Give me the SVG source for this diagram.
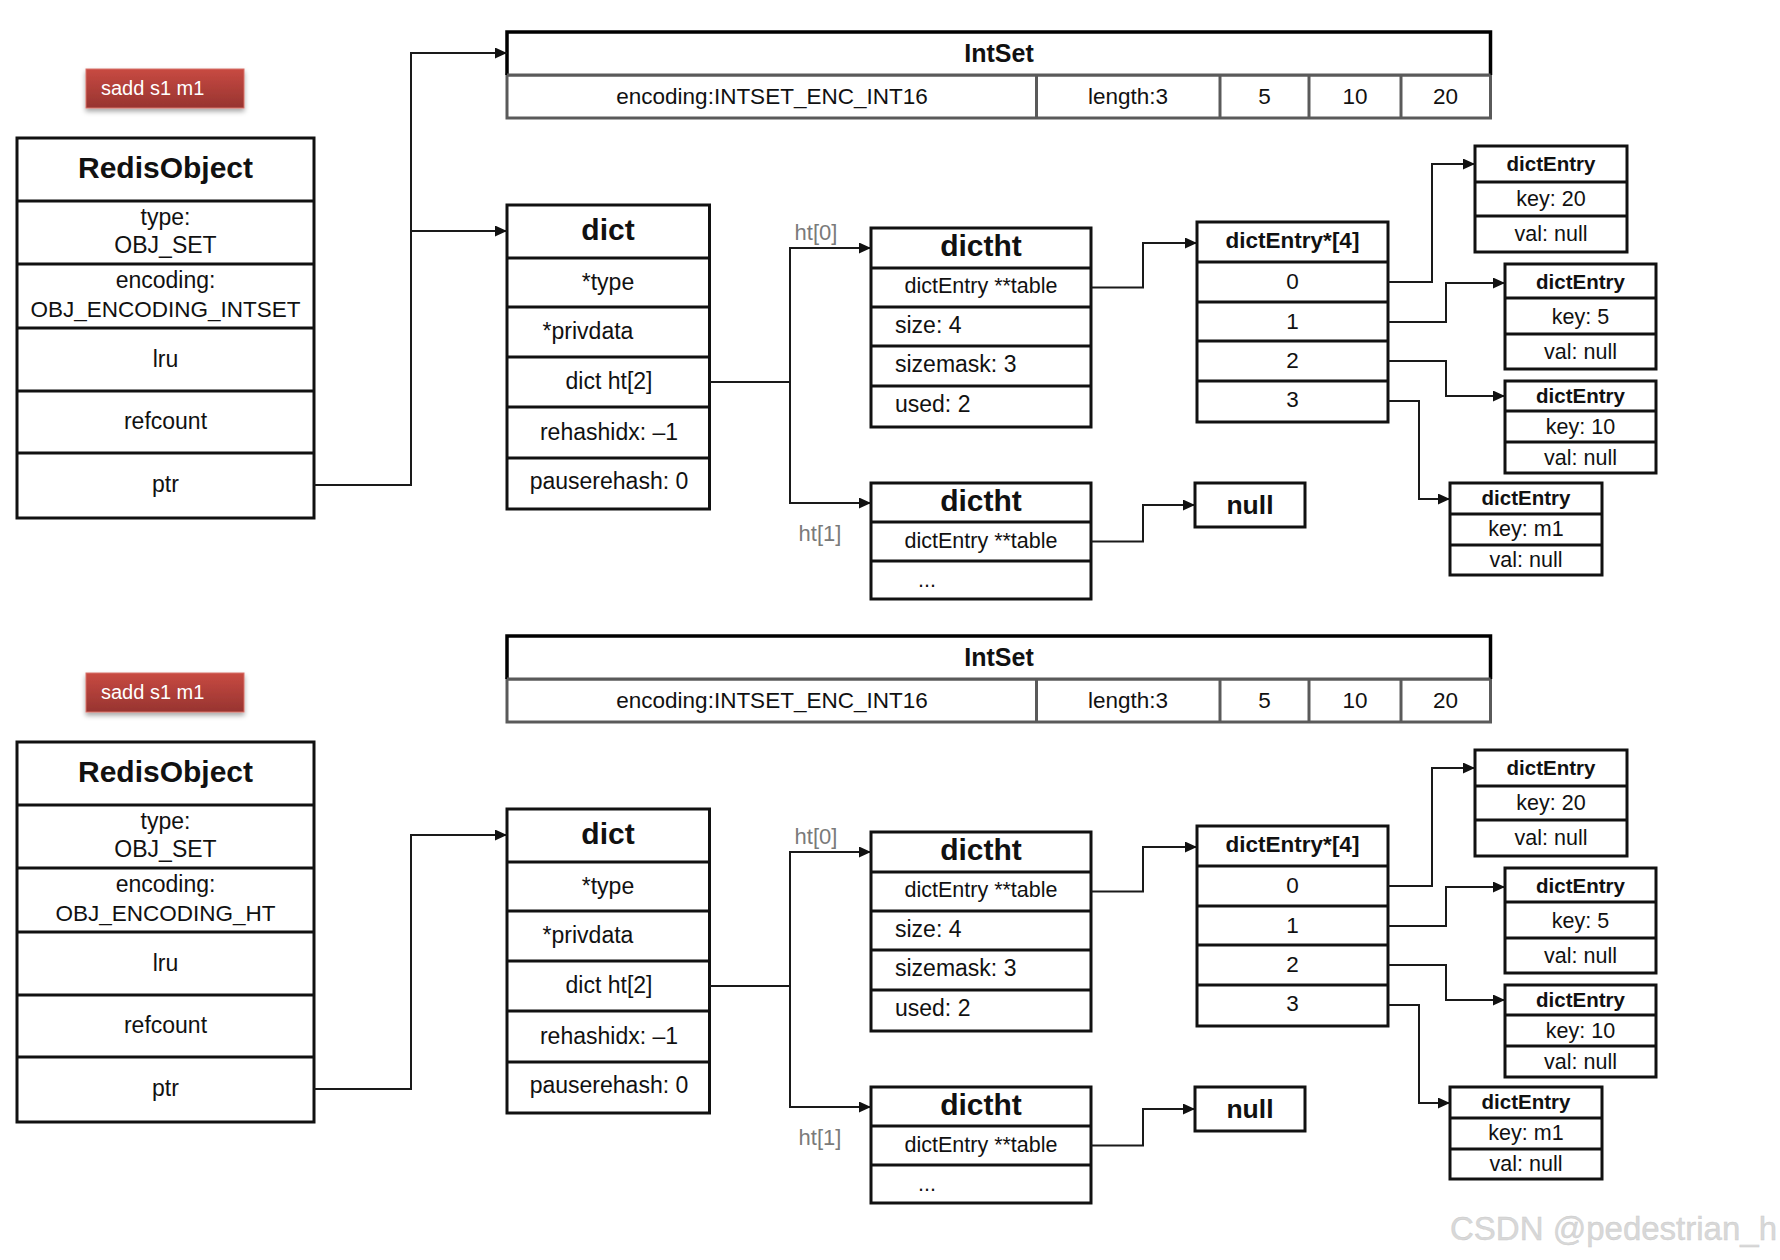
<svg xmlns="http://www.w3.org/2000/svg" width="1780" height="1260" viewBox="0 0 1780 1260">
<style>
.box{fill:#fff;stroke:#111;stroke-width:3}
.dv{stroke:#111;stroke-width:3}
.gbox{fill:#fff;stroke:#5a5a5a;stroke-width:3}
.gdv{stroke:#5a5a5a;stroke-width:3}
.t{font-family:"Liberation Sans",Arial,Helvetica,sans-serif;fill:#111;text-anchor:middle}
.s{text-anchor:start}
.b30{font-weight:bold;font-size:30px}
.r23{font-size:23px}
.r22{font-size:22.5px}
.r21{font-size:21.5px}
.b22{font-weight:bold;font-size:22.5px}
.b20{font-weight:bold;font-size:20.5px}
.lbl{font-family:"Liberation Sans",Arial,sans-serif;font-size:22px;fill:#7a7a7a;text-anchor:middle}
.btn{font-family:"Liberation Sans",Arial,sans-serif;font-size:20px;fill:#fff}
.conn{fill:none;stroke:#1a1a1a;stroke-width:2;marker-end:url(#arr)}
</style>
<defs>
<marker id="arr" markerUnits="userSpaceOnUse" markerWidth="13" markerHeight="11" refX="12" refY="5.5" orient="auto">
<path d="M0,0 L12,5.5 L0,11 z" fill="#111"/>
</marker>
<linearGradient id="red" x1="0" y1="0" x2="0" y2="1">
<stop offset="0" stop-color="#c84a42"/>
<stop offset="1" stop-color="#973430"/>
</linearGradient>
<filter id="sh" x="-10%" y="-20%" width="120%" height="160%">
<feDropShadow dx="0" dy="3" stdDeviation="2.5" flood-color="#000" flood-opacity="0.35"/>
</filter>
</defs>
<rect width="1780" height="1260" fill="#fff"/>

<!-- ============ SECTION 1 ============ -->
<g id="section1">
<g id="cmd1">
<rect x="86" y="69" width="158" height="39" fill="url(#red)" stroke="#d87068" stroke-width="1" filter="url(#sh)"/>
<text class="btn" x="101" y="95">sadd s1 m1</text>
</g>

<g id="redisobject1">
<rect class="box" x="17" y="138" width="297" height="380"/>
<line class="dv" x1="17" y1="201" x2="314" y2="201"/>
<line class="dv" x1="17" y1="264" x2="314" y2="264"/>
<line class="dv" x1="17" y1="328" x2="314" y2="328"/>
<line class="dv" x1="17" y1="391" x2="314" y2="391"/>
<line class="dv" x1="17" y1="453" x2="314" y2="453"/>
<text class="t b30" x="165.5" y="178">RedisObject</text>
<text class="t r23" x="165.5" y="225">type:</text>
<text class="t r23" x="165.5" y="253">OBJ_SET</text>
<text class="t r23" x="165.5" y="288">encoding:</text>
<text class="t r23" x="165.5" y="317" style="font-size:22.5px">OBJ_ENCODING_INTSET</text>
<text class="t r23" x="165.5" y="367">lru</text>
<text class="t r23" x="165.5" y="429">refcount</text>
<text class="t r23" x="165.5" y="492">ptr</text>
</g>

<g id="intset1">
<rect class="gbox" x="507" y="75" width="983.5" height="43"/>
<rect x="507" y="32" width="983.5" height="43" fill="#fff"/>
<path d="M507,75 V32 H1490.5 V75" fill="none" stroke="#000" stroke-width="3.5"/>
<line class="gdv" x1="507" y1="75" x2="1490.5" y2="75"/>
<line class="gdv" x1="1036.5" y1="75" x2="1036.5" y2="118"/>
<line class="gdv" x1="1220" y1="75" x2="1220" y2="118"/>
<line class="gdv" x1="1309" y1="75" x2="1309" y2="118"/>
<line class="gdv" x1="1401" y1="75" x2="1401" y2="118"/>
<text class="t" x="999" y="62" style="font-size:25px;font-weight:bold">IntSet</text>
<text class="t r22" x="772" y="104">encoding:INTSET_ENC_INT16</text>
<text class="t r22" x="1128" y="104">length:3</text>
<text class="t r22" x="1264.5" y="104">5</text>
<text class="t r22" x="1355" y="104">10</text>
<text class="t r22" x="1445.5" y="104">20</text>
</g>

<g id="dict1">
<rect class="box" x="507" y="205" width="202.5" height="304"/>
<line class="dv" x1="507" y1="258" x2="709.5" y2="258"/>
<line class="dv" x1="507" y1="307" x2="709.5" y2="307"/>
<line class="dv" x1="507" y1="357" x2="709.5" y2="357"/>
<line class="dv" x1="507" y1="407" x2="709.5" y2="407"/>
<line class="dv" x1="507" y1="458" x2="709.5" y2="458"/>
<text class="t b30" x="608" y="240">dict</text>
<text class="t r23" x="608" y="290">*type</text>
<text class="t r23" x="588" y="339">*privdata</text>
<text class="t r23" x="609" y="389">dict ht[2]</text>
<text class="t r23" x="609" y="440">rehashidx: –1</text>
<text class="t r23" x="609" y="489">pauserehash: 0</text>
</g>

<g id="dictht0-1">
<rect class="box" x="871" y="228" width="220" height="199"/>
<line class="dv" x1="871" y1="268" x2="1091" y2="268"/>
<line class="dv" x1="871" y1="307" x2="1091" y2="307"/>
<line class="dv" x1="871" y1="346" x2="1091" y2="346"/>
<line class="dv" x1="871" y1="386" x2="1091" y2="386"/>
<text class="t b30" x="981" y="256">dictht</text>
<text class="t r21" x="981" y="293">dictEntry **table</text>
<text class="t r23 s" x="895" y="333">size: 4</text>
<text class="t r23 s" x="895" y="372">sizemask: 3</text>
<text class="t r23 s" x="895" y="412">used: 2</text>
</g>

<g id="dictht1-1">
<rect class="box" x="871" y="483" width="220" height="116"/>
<line class="dv" x1="871" y1="522" x2="1091" y2="522"/>
<line class="dv" x1="871" y1="561" x2="1091" y2="561"/>
<text class="t b30" x="981" y="511">dictht</text>
<text class="t r21" x="981" y="548">dictEntry **table</text>
<text class="t r21 s" x="918" y="587">...</text>
</g>

<g id="table-1">
<rect class="box" x="1197" y="222" width="191" height="200"/>
<line class="dv" x1="1197" y1="262" x2="1388" y2="262"/>
<line class="dv" x1="1197" y1="302" x2="1388" y2="302"/>
<line class="dv" x1="1197" y1="341" x2="1388" y2="341"/>
<line class="dv" x1="1197" y1="381" x2="1388" y2="381"/>
<text class="t b22" x="1292.5" y="248">dictEntry*[4]</text>
<text class="t r22" x="1292.5" y="289">0</text>
<text class="t r22" x="1292.5" y="329">1</text>
<text class="t r22" x="1292.5" y="368">2</text>
<text class="t r22" x="1292.5" y="407">3</text>
</g>

<g id="null-1">
<rect class="box" x="1195" y="483" width="110" height="44"/>
<text class="t" x="1250" y="514" style="font-size:26.5px;font-weight:bold">null</text>
</g>

<g id="entry20-1">
<rect class="box" x="1475" y="146" width="152" height="106"/>
<line class="dv" x1="1475" y1="182" x2="1627" y2="182"/>
<line class="dv" x1="1475" y1="216" x2="1627" y2="216"/>
<text class="t b20" x="1551" y="171">dictEntry</text>
<text class="t r21" x="1551" y="206">key: 20</text>
<text class="t r21" x="1551" y="241">val: null</text>
</g>
<g id="entry5-1">
<rect class="box" x="1505" y="264" width="151" height="105"/>
<line class="dv" x1="1505" y1="298" x2="1656" y2="298"/>
<line class="dv" x1="1505" y1="334" x2="1656" y2="334"/>
<text class="t b20" x="1580.5" y="289">dictEntry</text>
<text class="t r21" x="1580.5" y="324">key: 5</text>
<text class="t r21" x="1580.5" y="359">val: null</text>
</g>
<g id="entry10-1">
<rect class="box" x="1505" y="381" width="151" height="92"/>
<line class="dv" x1="1505" y1="411" x2="1656" y2="411"/>
<line class="dv" x1="1505" y1="442" x2="1656" y2="442"/>
<text class="t b20" x="1580.5" y="403">dictEntry</text>
<text class="t r21" x="1580.5" y="434">key: 10</text>
<text class="t r21" x="1580.5" y="465">val: null</text>
</g>
<g id="entrym1-1">
<rect class="box" x="1450" y="483" width="152" height="92"/>
<line class="dv" x1="1450" y1="514" x2="1602" y2="514"/>
<line class="dv" x1="1450" y1="545" x2="1602" y2="545"/>
<text class="t b20" x="1526" y="505">dictEntry</text>
<text class="t r21" x="1526" y="536">key: m1</text>
<text class="t r21" x="1526" y="567">val: null</text>
</g>

<g id="labels-1">
<text class="lbl" x="816" y="240">ht[0]</text>
<text class="lbl" x="820" y="541">ht[1]</text>
</g>

<g id="connectors-1">
<path class="conn" d="M314,485 H411 V53 H507"/>
<path class="conn" d="M411,231 H507"/>
<path class="conn" d="M709.5,382 H790 V248 H871"/>
<path class="conn" d="M790,382 V503 H871"/>
<path class="conn" d="M1091,287.5 H1143 V243 H1197"/>
<path class="conn" d="M1091,541.5 H1143 V505 H1195"/>
<path class="conn" d="M1388,282 H1432 V164 H1475"/>
<path class="conn" d="M1388,322 H1446 V283 H1505"/>
<path class="conn" d="M1388,361 H1446 V396 H1505"/>
<path class="conn" d="M1388,401 H1419 V499 H1450"/>
</g>
</g>

<!-- ============ SECTION 2 ============ -->
<g id="section2" transform="translate(0,604)">
<g id="cmd2">
<rect x="86" y="69" width="158" height="39" fill="url(#red)" stroke="#d87068" stroke-width="1" filter="url(#sh)"/>
<text class="btn" x="101" y="95">sadd s1 m1</text>
</g>

<g id="redisobject2">
<rect class="box" x="17" y="138" width="297" height="380"/>
<line class="dv" x1="17" y1="201" x2="314" y2="201"/>
<line class="dv" x1="17" y1="264" x2="314" y2="264"/>
<line class="dv" x1="17" y1="328" x2="314" y2="328"/>
<line class="dv" x1="17" y1="391" x2="314" y2="391"/>
<line class="dv" x1="17" y1="453" x2="314" y2="453"/>
<text class="t b30" x="165.5" y="178">RedisObject</text>
<text class="t r23" x="165.5" y="225">type:</text>
<text class="t r23" x="165.5" y="253">OBJ_SET</text>
<text class="t r23" x="165.5" y="288">encoding:</text>
<text class="t r23" x="165.5" y="317" style="font-size:22.5px">OBJ_ENCODING_HT</text>
<text class="t r23" x="165.5" y="367">lru</text>
<text class="t r23" x="165.5" y="429">refcount</text>
<text class="t r23" x="165.5" y="492">ptr</text>
</g>

<g id="intset2">
<rect class="gbox" x="507" y="75" width="983.5" height="43"/>
<rect x="507" y="32" width="983.5" height="43" fill="#fff"/>
<path d="M507,75 V32 H1490.5 V75" fill="none" stroke="#000" stroke-width="3.5"/>
<line class="gdv" x1="507" y1="75" x2="1490.5" y2="75"/>
<line class="gdv" x1="1036.5" y1="75" x2="1036.5" y2="118"/>
<line class="gdv" x1="1220" y1="75" x2="1220" y2="118"/>
<line class="gdv" x1="1309" y1="75" x2="1309" y2="118"/>
<line class="gdv" x1="1401" y1="75" x2="1401" y2="118"/>
<text class="t" x="999" y="62" style="font-size:25px;font-weight:bold">IntSet</text>
<text class="t r22" x="772" y="104">encoding:INTSET_ENC_INT16</text>
<text class="t r22" x="1128" y="104">length:3</text>
<text class="t r22" x="1264.5" y="104">5</text>
<text class="t r22" x="1355" y="104">10</text>
<text class="t r22" x="1445.5" y="104">20</text>
</g>

<g id="dict2">
<rect class="box" x="507" y="205" width="202.5" height="304"/>
<line class="dv" x1="507" y1="258" x2="709.5" y2="258"/>
<line class="dv" x1="507" y1="307" x2="709.5" y2="307"/>
<line class="dv" x1="507" y1="357" x2="709.5" y2="357"/>
<line class="dv" x1="507" y1="407" x2="709.5" y2="407"/>
<line class="dv" x1="507" y1="458" x2="709.5" y2="458"/>
<text class="t b30" x="608" y="240">dict</text>
<text class="t r23" x="608" y="290">*type</text>
<text class="t r23" x="588" y="339">*privdata</text>
<text class="t r23" x="609" y="389">dict ht[2]</text>
<text class="t r23" x="609" y="440">rehashidx: –1</text>
<text class="t r23" x="609" y="489">pauserehash: 0</text>
</g>

<g id="dictht0-2">
<rect class="box" x="871" y="228" width="220" height="199"/>
<line class="dv" x1="871" y1="268" x2="1091" y2="268"/>
<line class="dv" x1="871" y1="307" x2="1091" y2="307"/>
<line class="dv" x1="871" y1="346" x2="1091" y2="346"/>
<line class="dv" x1="871" y1="386" x2="1091" y2="386"/>
<text class="t b30" x="981" y="256">dictht</text>
<text class="t r21" x="981" y="293">dictEntry **table</text>
<text class="t r23 s" x="895" y="333">size: 4</text>
<text class="t r23 s" x="895" y="372">sizemask: 3</text>
<text class="t r23 s" x="895" y="412">used: 2</text>
</g>

<g id="dictht1-2">
<rect class="box" x="871" y="483" width="220" height="116"/>
<line class="dv" x1="871" y1="522" x2="1091" y2="522"/>
<line class="dv" x1="871" y1="561" x2="1091" y2="561"/>
<text class="t b30" x="981" y="511">dictht</text>
<text class="t r21" x="981" y="548">dictEntry **table</text>
<text class="t r21 s" x="918" y="587">...</text>
</g>

<g id="table-2">
<rect class="box" x="1197" y="222" width="191" height="200"/>
<line class="dv" x1="1197" y1="262" x2="1388" y2="262"/>
<line class="dv" x1="1197" y1="302" x2="1388" y2="302"/>
<line class="dv" x1="1197" y1="341" x2="1388" y2="341"/>
<line class="dv" x1="1197" y1="381" x2="1388" y2="381"/>
<text class="t b22" x="1292.5" y="248">dictEntry*[4]</text>
<text class="t r22" x="1292.5" y="289">0</text>
<text class="t r22" x="1292.5" y="329">1</text>
<text class="t r22" x="1292.5" y="368">2</text>
<text class="t r22" x="1292.5" y="407">3</text>
</g>

<g id="null-2">
<rect class="box" x="1195" y="483" width="110" height="44"/>
<text class="t" x="1250" y="514" style="font-size:26.5px;font-weight:bold">null</text>
</g>

<g id="entry20-2">
<rect class="box" x="1475" y="146" width="152" height="106"/>
<line class="dv" x1="1475" y1="182" x2="1627" y2="182"/>
<line class="dv" x1="1475" y1="216" x2="1627" y2="216"/>
<text class="t b20" x="1551" y="171">dictEntry</text>
<text class="t r21" x="1551" y="206">key: 20</text>
<text class="t r21" x="1551" y="241">val: null</text>
</g>
<g id="entry5-2">
<rect class="box" x="1505" y="264" width="151" height="105"/>
<line class="dv" x1="1505" y1="298" x2="1656" y2="298"/>
<line class="dv" x1="1505" y1="334" x2="1656" y2="334"/>
<text class="t b20" x="1580.5" y="289">dictEntry</text>
<text class="t r21" x="1580.5" y="324">key: 5</text>
<text class="t r21" x="1580.5" y="359">val: null</text>
</g>
<g id="entry10-2">
<rect class="box" x="1505" y="381" width="151" height="92"/>
<line class="dv" x1="1505" y1="411" x2="1656" y2="411"/>
<line class="dv" x1="1505" y1="442" x2="1656" y2="442"/>
<text class="t b20" x="1580.5" y="403">dictEntry</text>
<text class="t r21" x="1580.5" y="434">key: 10</text>
<text class="t r21" x="1580.5" y="465">val: null</text>
</g>
<g id="entrym1-2">
<rect class="box" x="1450" y="483" width="152" height="92"/>
<line class="dv" x1="1450" y1="514" x2="1602" y2="514"/>
<line class="dv" x1="1450" y1="545" x2="1602" y2="545"/>
<text class="t b20" x="1526" y="505">dictEntry</text>
<text class="t r21" x="1526" y="536">key: m1</text>
<text class="t r21" x="1526" y="567">val: null</text>
</g>

<g id="labels-2">
<text class="lbl" x="816" y="240">ht[0]</text>
<text class="lbl" x="820" y="541">ht[1]</text>
</g>

<g id="connectors-2">
<path class="conn" d="M314,485 H411 V231 H507"/>
<path class="conn" d="M709.5,382 H790 V248 H871"/>
<path class="conn" d="M790,382 V503 H871"/>
<path class="conn" d="M1091,287.5 H1143 V243 H1197"/>
<path class="conn" d="M1091,541.5 H1143 V505 H1195"/>
<path class="conn" d="M1388,282 H1432 V164 H1475"/>
<path class="conn" d="M1388,322 H1446 V283 H1505"/>
<path class="conn" d="M1388,361 H1446 V396 H1505"/>
<path class="conn" d="M1388,401 H1419 V499 H1450"/>
</g>
</g>

<text x="1450" y="1240" style="font-family:'Liberation Sans',Arial,sans-serif;font-size:33px;fill:#d8d8d8;stroke:#cacaca;stroke-width:0.4">CSDN @pedestrian_h</text>
</svg>
